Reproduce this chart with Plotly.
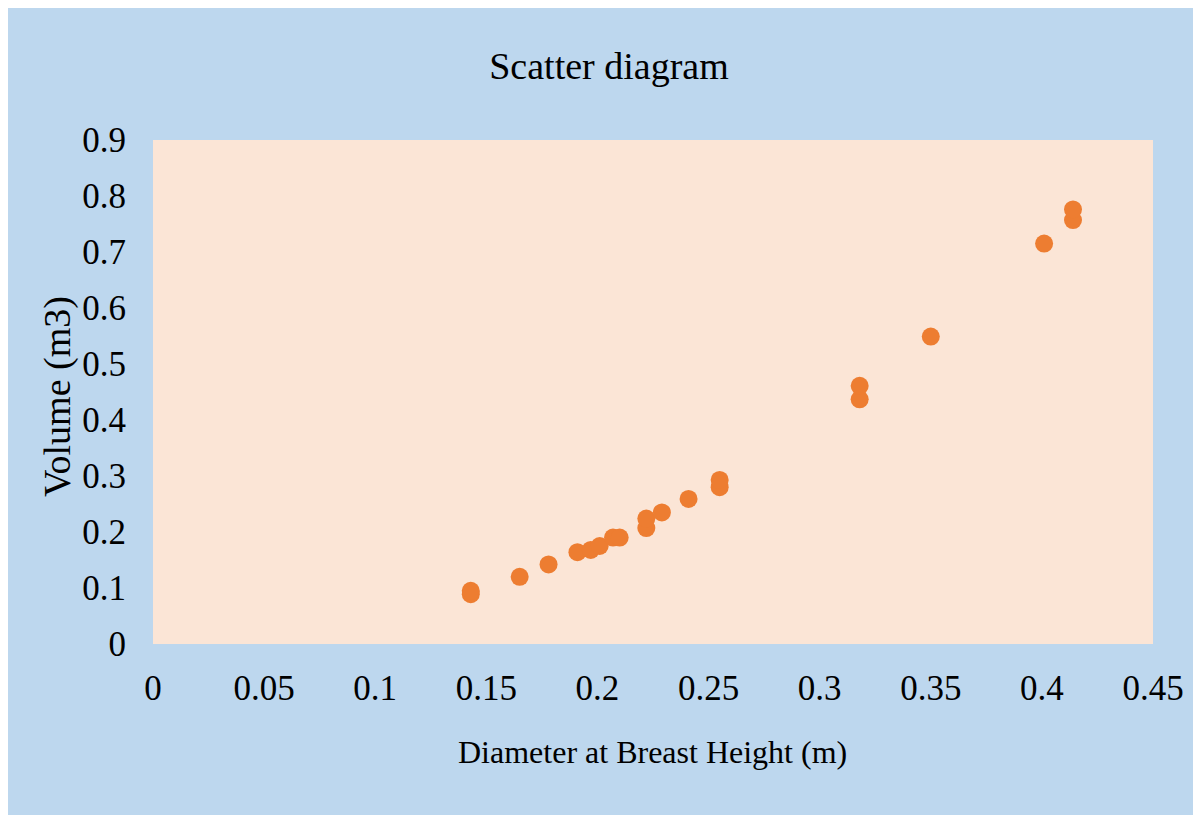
import plotly.graph_objects as go

# Data
dbh = [0.143, 0.143, 0.165, 0.178, 0.191, 0.197, 0.201, 0.207, 0.210,
       0.222, 0.222, 0.229, 0.241, 0.255, 0.255, 0.318, 0.318,
       0.350, 0.401, 0.414, 0.414]
volume = [0.089, 0.095, 0.120, 0.142, 0.164, 0.168, 0.175, 0.190, 0.190,
          0.207, 0.224, 0.235, 0.259, 0.280, 0.293, 0.437, 0.461,
          0.549, 0.715, 0.757, 0.776]

x_ticks = [0, 0.05, 0.1, 0.15, 0.2, 0.25, 0.3, 0.35, 0.4, 0.45]
x_labels = ["0", "0.05", "0.1", "0.15", "0.2", "0.25", "0.3", "0.35", "0.4", "0.45"]
y_ticks = [0, 0.1, 0.2, 0.3, 0.4, 0.5, 0.6, 0.7, 0.8, 0.9]
y_labels = ["0", "0.1", "0.2", "0.3", "0.4", "0.5", "0.6", "0.7", "0.8", "0.9"]

FONT = "Liberation Serif, Times New Roman, serif"

fig = go.Figure()
fig.add_trace(go.Scatter(
    x=dbh, y=volume, mode="markers",
    marker=dict(color="#ED7D31", size=18, line=dict(width=0)),
    showlegend=False,
))

W, H = 1201, 815
ml, mr, mt, mb = 145, 56, 132, 179
pw, ph = W - ml - mr, H - mt - mb

fig.update_layout(
    width=W, height=H,
    margin=dict(l=ml, r=mr, t=mt, b=mb),
    paper_bgcolor="#BDD7EE",
    plot_bgcolor="#FBE5D6",
    title=dict(text="Scatter diagram", x=601 / W,
               xanchor="center", y=1 - 58 / H, yanchor="middle",
               font=dict(family=FONT, size=38, color="#000000")),
    font=dict(family=FONT, color="#000000"),
    xaxis=dict(range=[0, 0.45], tickvals=x_ticks, ticktext=x_labels,
               showgrid=False, zeroline=False, showline=False,
               ticks="", ticklabelstandoff=20,
               tickfont=dict(family=FONT, size=35)),
    yaxis=dict(range=[0, 0.9], tickvals=y_ticks, ticktext=y_labels,
               showgrid=False, zeroline=False, showline=False,
               ticks="", ticklabelstandoff=26,
               tickfont=dict(family=FONT, size=35)),
    annotations=[
        dict(text="Diameter at Breast Height (m)", xref="paper", yref="paper",
             x=(644 - ml) / pw, y=(H - mb - 744) / ph,
             xanchor="center", yanchor="middle", showarrow=False,
             font=dict(family=FONT, size=32, color="#000000")),
        dict(text="Volume (m3)", xref="paper", yref="paper",
             x=(49 - ml) / pw, y=(H - mb - 389) / ph, textangle=-90,
             xanchor="center", yanchor="middle", showarrow=False,
             font=dict(family=FONT, size=38, color="#000000")),
    ],
)

fig.write_html("out.html")
